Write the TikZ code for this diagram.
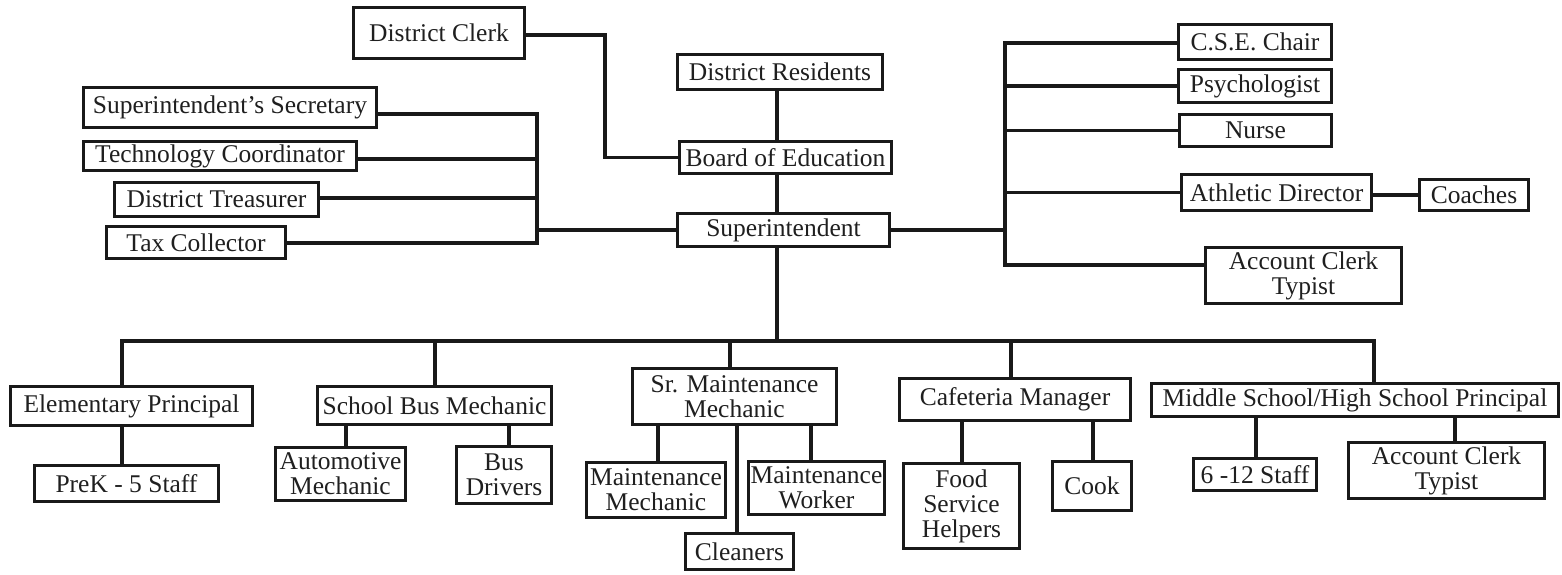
\documentclass[tikz,border=0pt]{standalone}
\usepackage{fontspec}
\setmainfont{Liberation Serif}
\begin{document}
\begin{tikzpicture}[x=1pt,y=-1pt,
  box/.style 2 args={draw=black!90, line width=3.4pt, inner sep=0pt, outer sep=0pt, fill=white,
    minimum width={#1pt-3.4pt}, minimum height={#2pt-3.4pt}, align=center,
    font=\fontsize{25.5}{25}\selectfont, text=black!88},
  link/.style={draw=black!90, line width=3.1pt, line cap=rect}]
\useasboundingbox (0,0) rectangle (1562,574);
% top
\node[box={174}{54}] (clerk) at (439,33) {District Clerk};
\node[box={208}{38}] (res) at (780,72) {District Residents};
\node[box={215}{35}] (board) at (785.5,157.5) {Board of Education};
\node[box={215}{36}] (supt) at (783.5,230) {Superintendent};
% left group
\node[box={296}{43}] (sec) at (230,107.5) {Superintendent’s Secretary};
\node[box={276}{32}] (tc) at (220,156) {Technology Coordinator};
\node[box={207}{37}] (treas) at (216.5,199.5) {District Treasurer};
\node[box={182}{35}] (tax) at (196,242.5) {Tax Collector};
% right group
\node[box={156}{38}] (cse) at (1255,42) {C.S.E. Chair};
\node[box={156}{36}] (psy) at (1255,86) {Psychologist};
\node[box={155}{35}] (nurse) at (1255.5,130.5) {Nurse};
\node[box={193}{39}] (ad) at (1276.5,192.5) {Athletic Director};
\node[box={112}{34}] (coach) at (1474,195) {Coaches};
\node[box={199}{59}] (act1) at (1303.5,275.5) {Account Clerk\\Typist};
% bottom level 1
\node[box={245}{42}] (elem) at (131.5,406) {Elementary Principal};
\node[box={237}{41}] (sbm) at (434.5,405.5) {School Bus Mechanic};
\node[box={207}{59}] (srm) at (734.5,396.5) {Sr. Maintenance\\Mechanic};
\node[box={234}{45}] (caf) at (1015,399.5) {Cafeteria Manager};
\node[box={410}{36}] (mshs) at (1355,400) {Middle School/High School Principal};
% bottom level 2
\node[box={187}{39}] (prek) at (126.5,483.5) {PreK - 5 Staff};
\node[box={133}{56}] (auto) at (340.5,474) {Automotive\\Mechanic};
\node[box={98}{60}] (drv) at (504,475) {Bus\\Drivers};
\node[box={142}{58}] (mm) at (656,490) {Maintenance\\Mechanic};
\node[box={111}{39}] (cln) at (739.5,551.5) {Cleaners};
\node[box={139}{56}] (mw) at (816.5,488) {Maintenance\\Worker};
\node[box={119}{88}] (food) at (961.5,506) {Food\\Service\\Helpers};
\node[box={82}{52}] (cook) at (1092,486) {Cook};
\node[box={126}{35}] (s612) at (1255,474.5) {6 -12 Staff};
\node[box={199}{59}] (act2) at (1446.5,470.5) {Account Clerk\\Typist};
% connectors: clerk and spine
\coordinate (CK) at (605,35);
\coordinate (CX) at (777,0);
\draw[link] (clerk.east |- CK) -- (CK) |- (board.west);
\draw[link] (res.south -| CX) -- (board.north -| CX);
\draw[link] (board.south -| CX) -- (supt.north -| CX);
% left bus
\coordinate (LT) at (537,114);
\coordinate (L2) at (537,159);
\coordinate (L3) at (537,198);
\coordinate (LB) at (537,243);
\draw[link] (sec.east |- LT) -- (LT) -- (LB) -- (tax.east |- LB);
\draw[link] (tc.east |- L2) -- (L2);
\draw[link] (treas.east |- L3) -- (L3);
\draw[link] (supt.west) -- (supt.west -| LT);
% right bus
\coordinate (RT) at (1005,43);
\coordinate (RB) at (1005,265);
\draw[link] (cse.west |- RT) -- (RT) -- (RB) -- (act1.west |- RB);
\draw[link] (psy.west) -- (psy.west -| RT);
\draw[link] (nurse.west) -- (nurse.west -| RT);
\draw[link] (ad.west) -- (ad.west -| RT);
\draw[link] (supt.east) -- (supt.east -| RT);
\draw[link] (ad.east |- coach.west) -- (coach.west);
% bottom bus
\coordinate (D1) at (122,341);
\coordinate (D2) at (435,341);
\coordinate (D3) at (730,341);
\coordinate (D4) at (1011,341);
\coordinate (D5) at (1374,341);
\draw[link] (supt.south -| CX) -- (CX |- D1);
\draw[link] (D1) -- (D5);
\draw[link] (D1) -- (elem.north -| D1);
\draw[link] (D2) -- (sbm.north -| D2);
\draw[link] (D3) -- (srm.north -| D3);
\draw[link] (D4) -- (caf.north -| D4);
\draw[link] (D5) -- (mshs.north -| D5);
% level 2 links
\draw[link] (elem.south -| D1) -- (prek.north -| D1);
\coordinate (A1) at (346,0);
\coordinate (A2) at (509,0);
\draw[link] (sbm.south -| A1) -- (auto.north -| A1);
\draw[link] (sbm.south -| A2) -- (drv.north -| A2);
\coordinate (M1) at (658,0);
\coordinate (M2) at (737,0);
\coordinate (M3) at (811,0);
\draw[link] (srm.south -| M1) -- (mm.north -| M1);
\draw[link] (srm.south -| M2) -- (cln.north -| M2);
\draw[link] (srm.south -| M3) -- (mw.north -| M3);
\coordinate (F1) at (962,0);
\coordinate (F2) at (1093,0);
\draw[link] (caf.south -| F1) -- (food.north -| F1);
\draw[link] (caf.south -| F2) -- (cook.north -| F2);
\coordinate (H1) at (1256,0);
\coordinate (H2) at (1455,0);
\draw[link] (mshs.south -| H1) -- (s612.north -| H1);
\draw[link] (mshs.south -| H2) -- (act2.north -| H2);
\end{tikzpicture}
\end{document}
